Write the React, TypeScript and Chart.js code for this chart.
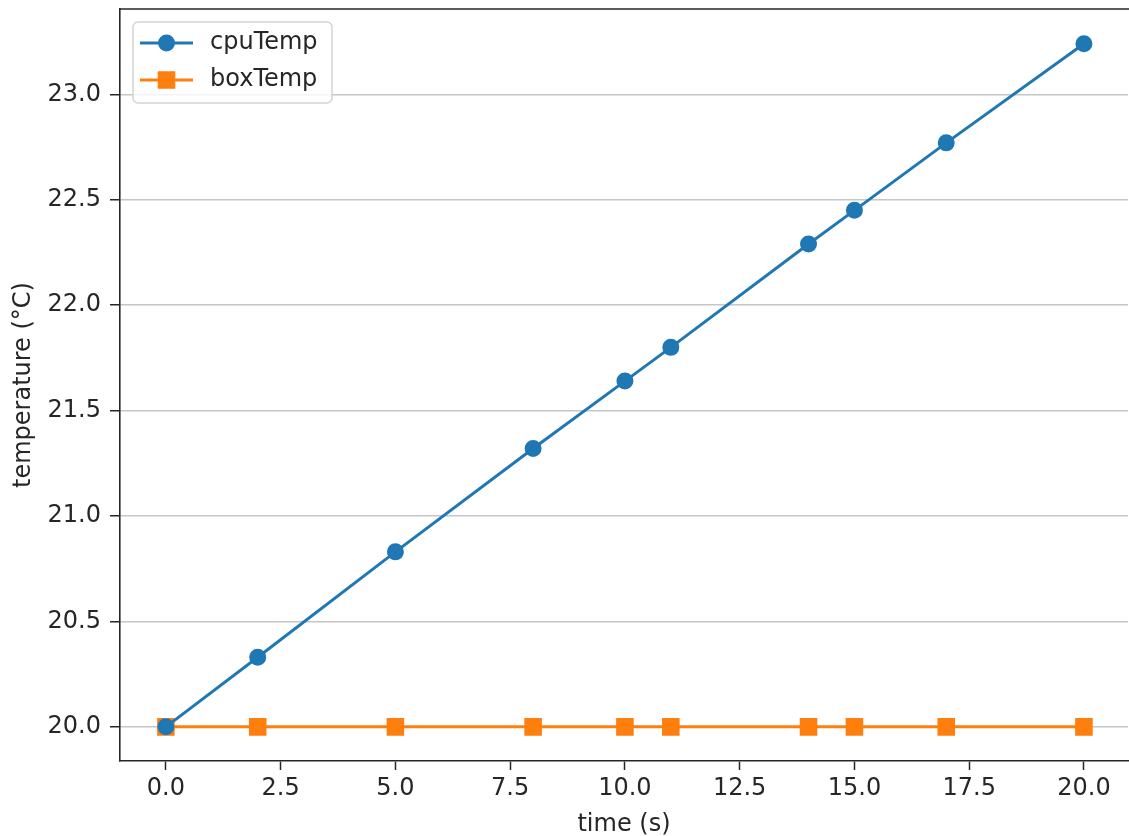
import React, { useEffect, useRef } from "react";
import { Chart, registerables } from "chart.js";

Chart.register(...registerables);

const timeS = [0, 2, 5, 8, 10, 11, 14, 15, 17, 20];
const cpuTemp = [20.0, 20.33, 20.83, 21.32, 21.64, 21.8, 22.29, 22.45, 22.77, 23.24];
const boxTemp = [20.0, 20.0, 20.0, 20.0, 20.0, 20.0, 20.0, 20.0, 20.0, 20.0];
const xTicks = [0, 2.5, 5, 7.5, 10, 12.5, 15, 17.5, 20];
const yTicks = [20.0, 20.5, 21.0, 21.5, 22.0, 22.5, 23.0];

const BLUE = "#1f77b4";
const ORANGE = "#ff7f0e";
const INK = "#262626";
const FONT = { family: "'DejaVu Sans', sans-serif", size: 24 };

// top spine (the right spine falls just outside the picture)
const framePlugin = {
  id: "frame",
  afterDraw(chart: any) {
    const { ctx, chartArea: a } = chart;
    ctx.save();
    ctx.strokeStyle = INK;
    ctx.lineWidth = 1.6;
    ctx.beginPath();
    ctx.moveTo(a.left, a.top);
    ctx.lineTo(chart.width, a.top);
    ctx.stroke();
    ctx.restore();
  },
};

const legendPlugin = {
  id: "mplLegend",
  afterDraw(chart: any) {
    const { ctx, chartArea: a } = chart;
    const x0 = a.left + 13;
    const y0 = a.top + 13;
    const w = 199;
    const h = 81;
    ctx.save();
    ctx.beginPath();
    ctx.roundRect(x0, y0, w, h, 5);
    ctx.fillStyle = "rgba(255,255,255,0.8)";
    ctx.fill();
    ctx.strokeStyle = "#d4d4d4";
    ctx.lineWidth = 1.5;
    ctx.stroke();
    chart.data.datasets.forEach((ds: any, i: number) => {
      const cy = y0 + 21 + i * 37;
      const lx0 = x0 + 7;
      const lx1 = x0 + 60;
      const mx = (lx0 + lx1) / 2;
      ctx.strokeStyle = ds.borderColor;
      ctx.lineWidth = ds.borderWidth;
      ctx.beginPath();
      ctx.moveTo(lx0, cy);
      ctx.lineTo(lx1, cy);
      ctx.stroke();
      ctx.fillStyle = ds.pointBackgroundColor;
      ctx.strokeStyle = ds.pointBorderColor;
      ctx.lineWidth = ds.pointBorderWidth;
      ctx.beginPath();
      if (ds.pointStyle === "rect") {
        const s = ds.pointRadius * Math.SQRT1_2;
        ctx.rect(mx - s, cy - s, 2 * s, 2 * s);
      } else {
        ctx.arc(mx, cy, ds.pointRadius, 0, Math.PI * 2);
      }
      ctx.fill();
      ctx.stroke();
      ctx.fillStyle = INK;
      ctx.font = `${FONT.size}px ${FONT.family}`;
      ctx.textBaseline = "middle";
      ctx.textAlign = "left";
      ctx.fillText(ds.label, x0 + 77, cy);
    });
    ctx.restore();
  },
};

export default function App() {
  const ref = useRef<HTMLCanvasElement>(null);
  useEffect(() => {
    if (!ref.current) return;
    const chart = new Chart(ref.current, {
      type: "line",
      data: {
        datasets: [
          {
            label: "cpuTemp",
            data: timeS.map((t, i) => ({ x: t, y: cpuTemp[i] })),
            borderColor: BLUE,
            backgroundColor: BLUE,
            pointBackgroundColor: BLUE,
            pointBorderColor: BLUE,
            borderWidth: 3,
            pointStyle: "circle",
            pointRadius: 7.5,
            pointBorderWidth: 2,
            tension: 0,
          },
          {
            label: "boxTemp",
            data: timeS.map((t, i) => ({ x: t, y: boxTemp[i] })),
            borderColor: ORANGE,
            backgroundColor: ORANGE,
            pointBackgroundColor: ORANGE,
            pointBorderColor: ORANGE,
            borderWidth: 3,
            pointStyle: "rect",
            pointRadius: 11,
            pointBorderWidth: 2,
            tension: 0,
          },
        ] as any,
      },
      options: {
        animation: false,
        responsive: false,
        maintainAspectRatio: false,
        layout: { autoPadding: false, padding: { top: 9, right: 1, left: 0, bottom: 0 } },
        plugins: { legend: { display: false }, tooltip: { enabled: false } },
        scales: {
          x: {
            type: "linear",
            min: -1,
            max: 20.96,
            afterBuildTicks: (s: any) => {
              s.ticks = xTicks.map((v) => ({ value: v }));
            },
            afterFit: (s: any) => {
              s.height = 75;
              s.paddingLeft = 0;
              s.paddingRight = 0;
            },
            grid: {
              drawOnChartArea: false,
              tickLength: 9,
              tickColor: INK,
              tickWidth: 1.5,
            },
            border: { color: INK, width: 1.6 },
            ticks: {
              font: FONT,
              color: INK,
              padding: 4,
              maxRotation: 0,
              autoSkip: false,
              callback: (v: any) => Number(v).toFixed(1),
            },
            title: {
              display: true,
              text: "time (s)",
              font: FONT,
              color: INK,
              padding: { top: 0, bottom: -3 },
            },
          },
          y: {
            type: "linear",
            min: 19.838,
            max: 23.405,
            afterBuildTicks: (s: any) => {
              s.ticks = yTicks.map((v) => ({ value: v }));
            },
            afterFit: (s: any) => {
              s.width = 120;
              s.paddingTop = 0;
              s.paddingBottom = 0;
            },
            grid: {
              color: "#c6c6c6",
              lineWidth: 1.5,
              tickLength: 10,
              tickColor: INK,
              tickWidth: 1.5,
            },
            border: { color: INK, width: 1.6 },
            ticks: {
              font: FONT,
              color: INK,
              padding: 9,
              autoSkip: false,
              callback: (v: any) => Number(v).toFixed(1),
            },
            title: {
              display: true,
              text: "temperature (°C)",
              font: FONT,
              color: INK,
              padding: { top: 9, bottom: 0 },
            },
          },
        },
      },
      plugins: [framePlugin, legendPlugin],
    });
    return () => chart.destroy();
  }, []);
  return (
    <div style={{ position: "absolute", left: 0, top: 0, width: 1129, height: 836, background: "#fff" }}>
      <canvas ref={ref} width={1129} height={836} style={{ display: "block" }} />
    </div>
  );
}
